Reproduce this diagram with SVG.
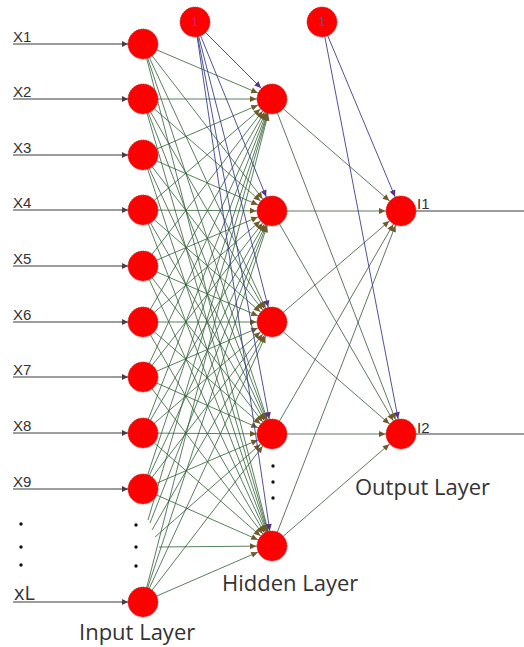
<svg xmlns="http://www.w3.org/2000/svg" width="524" height="647" viewBox="0 0 524 647">
<style>
.ih{stroke:#2f5f33;stroke-width:0.8;fill:none;marker-end:url(#ag)}
.bl{stroke:#3b3f8a;stroke-width:0.9;fill:none;marker-end:url(#ab)}
.ho{stroke:#34573a;stroke-width:0.8;fill:none;marker-end:url(#ag)}
.in{stroke:#3a3a3a;stroke-width:1;fill:none;marker-end:url(#ai)}
.out{stroke:#3a3a3a;stroke-width:1;fill:none}
.node{fill:#ff0000;stroke:#b02828;stroke-width:0.8;stroke-dasharray:1.5 1}
.lab{font-family:"Liberation Sans",Arial,sans-serif;font-size:15px;fill:#333}
.layer{font-family:"Open Sans","Noto Sans",sans-serif;font-size:22px;fill:#333}
.one{font-family:"Liberation Sans",Arial,sans-serif;font-size:12px;fill:#8a3aa8;text-anchor:middle}
.dot{fill:#111}
</style>
<defs>
<marker id="ag" markerUnits="userSpaceOnUse" orient="auto" overflow="visible" markerWidth="1" markerHeight="1"><path d="M-22,-3 L-15.5,0 L-22,3 Z" fill="#6e5a2a"/></marker>
<marker id="ab" markerUnits="userSpaceOnUse" orient="auto" overflow="visible" markerWidth="1" markerHeight="1"><path d="M-22,-3 L-15.5,0 L-22,3 Z" fill="#55348a"/></marker>
<marker id="ai" markerUnits="userSpaceOnUse" orient="auto" overflow="visible" markerWidth="1" markerHeight="1"><path d="M-6,-3 L0,0 L-6,3 Z" fill="#4a3a4a"/></marker>
</defs>
<rect width="524" height="647" fill="#ffffff"/>
<g id="connectors">
<path class="in" d="M13,44 H128"/>
<path class="in" d="M13,99 H128"/>
<path class="in" d="M13,155 H128"/>
<path class="in" d="M13,210 H128"/>
<path class="in" d="M13,266 H128"/>
<path class="in" d="M13,322 H128"/>
<path class="in" d="M13,377 H128"/>
<path class="in" d="M13,433 H128"/>
<path class="in" d="M13,489 H128"/>
<path class="in" d="M13,602 H128"/>
<path class="ih" d="M143,44 L272,99"/><path class="ih" d="M143,44 L272,211"/><path class="ih" d="M143,44 L272,322"/><path class="ih" d="M143,44 L272,434"/><path class="ih" d="M143,44 L272,546"/>
<path class="ih" d="M143,99 L272,99"/><path class="ih" d="M143,99 L272,211"/><path class="ih" d="M143,99 L272,322"/><path class="ih" d="M143,99 L272,434"/><path class="ih" d="M143,99 L272,546"/>
<path class="ih" d="M143,155 L272,99"/><path class="ih" d="M143,155 L272,211"/><path class="ih" d="M143,155 L272,322"/><path class="ih" d="M143,155 L272,434"/><path class="ih" d="M143,155 L272,546"/>
<path class="ih" d="M143,210 L272,99"/><path class="ih" d="M143,210 L272,211"/><path class="ih" d="M143,210 L272,322"/><path class="ih" d="M143,210 L272,434"/><path class="ih" d="M143,210 L272,546"/>
<path class="ih" d="M143,266 L272,99"/><path class="ih" d="M143,266 L272,211"/><path class="ih" d="M143,266 L272,322"/><path class="ih" d="M143,266 L272,434"/><path class="ih" d="M143,266 L272,546"/>
<path class="ih" d="M143,322 L272,99"/><path class="ih" d="M143,322 L272,211"/><path class="ih" d="M143,322 L272,322"/><path class="ih" d="M143,322 L272,434"/><path class="ih" d="M143,322 L272,546"/>
<path class="ih" d="M143,377 L272,99"/><path class="ih" d="M143,377 L272,211"/><path class="ih" d="M143,377 L272,322"/><path class="ih" d="M143,377 L272,434"/><path class="ih" d="M143,377 L272,546"/>
<path class="ih" d="M143,433 L272,99"/><path class="ih" d="M143,433 L272,211"/><path class="ih" d="M143,433 L272,322"/><path class="ih" d="M143,433 L272,434"/><path class="ih" d="M143,433 L272,546"/>
<path class="ih" d="M143,489 L272,99"/><path class="ih" d="M143,489 L272,211"/><path class="ih" d="M143,489 L272,322"/><path class="ih" d="M143,489 L272,434"/><path class="ih" d="M143,489 L272,546"/>
<path class="ih" d="M143,602 L272,99"/><path class="ih" d="M143,602 L272,211"/><path class="ih" d="M143,602 L272,322"/><path class="ih" d="M143,602 L272,434"/><path class="ih" d="M143,602 L272,546"/>
<path class="ih" d="M148,520 L272,99"/><path class="ih" d="M150,523 L272,211"/><path class="ih" d="M152,530 L272,322"/><path class="ih" d="M155,537 L272,434"/><path class="ih" d="M159,547 L272,546"/>
<path class="bl" d="M195,22 L272,99"/><path class="bl" d="M195,22 L272,211"/><path class="bl" d="M195,22 L272,322"/><path class="bl" d="M195,22 L272,434"/><path class="bl" d="M195,22 L272,546"/>
<path class="ho" d="M272,99 L401,211"/><path class="ho" d="M272,99 L401,434"/>
<path class="ho" d="M272,211 L401,211"/><path class="ho" d="M272,211 L401,434"/>
<path class="ho" d="M272,322 L401,211"/><path class="ho" d="M272,322 L401,434"/>
<path class="ho" d="M272,434 L401,211"/><path class="ho" d="M272,434 L401,434"/>
<path class="ho" d="M272,546 L401,211"/><path class="ho" d="M272,546 L401,434"/>
<path class="bl" d="M322,22 L401,211"/><path class="bl" d="M322,22 L401,434"/>
<path class="out" d="M416,211 H524"/>
<path class="out" d="M416,434 H524"/>
</g>
<g id="input-layer">
<g id="x1"><text class="lab" x="13" y="42">X1</text><circle class="node" cx="143" cy="44" r="15"/></g>
<g id="x2"><text class="lab" x="13" y="97">X2</text><circle class="node" cx="143" cy="99" r="15"/></g>
<g id="x3"><text class="lab" x="13" y="153">X3</text><circle class="node" cx="143" cy="155" r="15"/></g>
<g id="x4"><text class="lab" x="13" y="208">X4</text><circle class="node" cx="143" cy="210" r="15"/></g>
<g id="x5"><text class="lab" x="13" y="264">X5</text><circle class="node" cx="143" cy="266" r="15"/></g>
<g id="x6"><text class="lab" x="13" y="320">X6</text><circle class="node" cx="143" cy="322" r="15"/></g>
<g id="x7"><text class="lab" x="13" y="375">X7</text><circle class="node" cx="143" cy="377" r="15"/></g>
<g id="x8"><text class="lab" x="13" y="431">X8</text><circle class="node" cx="143" cy="433" r="15"/></g>
<g id="x9"><text class="lab" x="13" y="487">X9</text><circle class="node" cx="143" cy="489" r="15"/></g>
<g id="xl"><text class="layer" style="font-size:20px" x="14" y="600">xL</text><circle class="node" cx="143" cy="602" r="15"/></g>
<g id="input-dots">
<circle class="dot" cx="21" cy="524" r="1.7"/><circle class="dot" cx="21" cy="547" r="1.7"/><circle class="dot" cx="21" cy="565" r="1.7"/>
<circle class="dot" cx="136" cy="525" r="1.7"/><circle class="dot" cx="136" cy="547" r="1.7"/><circle class="dot" cx="136" cy="566" r="1.7"/>
</g>
<text class="layer" x="79" y="640">Input Layer</text>
</g>
<g id="bias1"><circle class="node" cx="195" cy="22" r="15"/><text class="one" x="195" y="26">1</text></g>
<g id="bias2"><circle class="node" cx="322" cy="22" r="15"/><text class="one" x="322" y="26">1</text></g>
<g id="hidden-layer">
<g id="h1"><circle class="node" cx="272" cy="99" r="15"/></g>
<g id="h2"><circle class="node" cx="272" cy="211" r="15"/></g>
<g id="h3"><circle class="node" cx="272" cy="322" r="15"/></g>
<g id="h4"><circle class="node" cx="272" cy="434" r="15"/></g>
<g id="h5"><circle class="node" cx="272" cy="546" r="15"/></g>
<circle class="dot" cx="273" cy="466" r="1.7"/><circle class="dot" cx="273" cy="482" r="1.7"/><circle class="dot" cx="273" cy="498" r="1.7"/>
<text class="layer" x="222" y="591">Hidden Layer</text>
</g>
<g id="output-layer">
<g id="o1"><circle class="node" cx="401" cy="211" r="15"/><text class="lab" x="417" y="209">I1</text></g>
<g id="o2"><circle class="node" cx="401" cy="434" r="15"/><text class="lab" x="417" y="433">I2</text></g>
<text class="layer" x="355" y="495">Output Layer</text>
</g>
</svg>
